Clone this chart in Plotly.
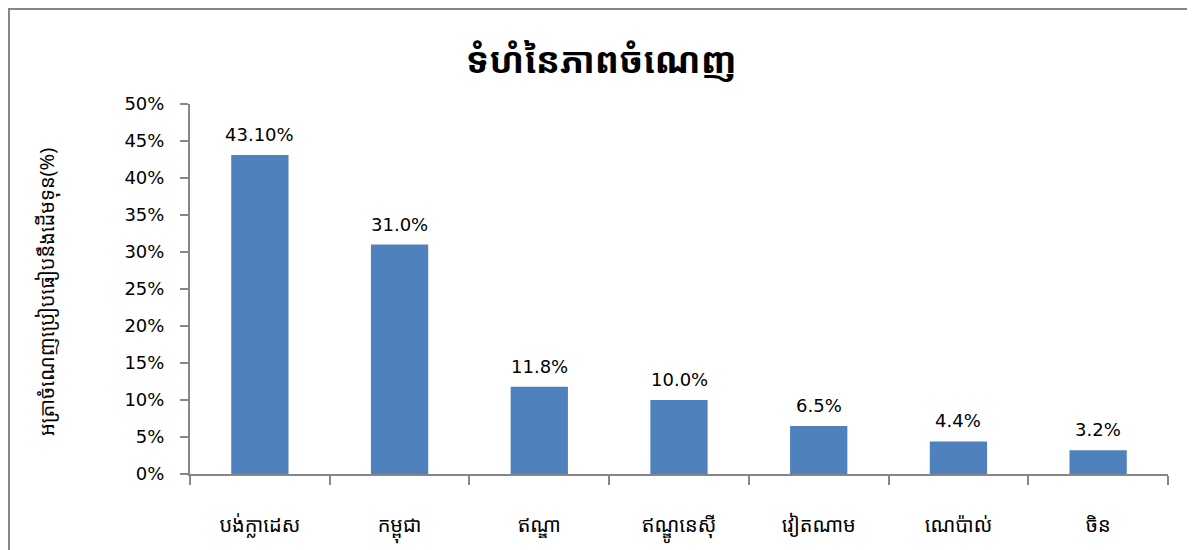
import plotly.graph_objects as go

categories = ["បង់ក្លាដេស", "កម្ពុជា", "ឥណ្ឌា", "ឥណ្ឌូនេស៊ី", "វៀតណាម", "ណេប៉ាល់", "ចិន"]
values = [0.431, 0.310, 0.118, 0.100, 0.065, 0.044, 0.032]
value_labels = ["43.10%", "31.0%", "11.8%", "10.0%", "6.5%", "4.4%", "3.2%"]
title_text = "ទំហំនៃភាពចំណេញ"
y_title = "អត្រាចំណេញប្រៀបធៀបនឹងដើមទុន(%)"
y_ticks = [0, 0.05, 0.10, 0.15, 0.20, 0.25, 0.30, 0.35, 0.40, 0.45, 0.50]

OFF = 8  # default page body margin
W, H = 1195 - OFF, 550 - OFF
L, R, T, B = 182, 27, 96, 76
pw = W - L - R
ph = H - T - B

def px_x(x):
    return (x - OFF - L) / pw

def px_y(y):
    return (H - B - (y - OFF)) / ph

fig = go.Figure()
fig.add_trace(go.Bar(
    x=categories, y=values,
    marker=dict(color="#4F81BD", line=dict(width=0)),
    cliponaxis=False,
))

for c, v, t in zip(categories, values, value_labels):
    fig.add_annotation(x=c, y=v, text=t, showarrow=False, xanchor="center", yanchor="bottom",
                       yshift=8, font=dict(family="DejaVu Sans", size=18, color="#000000"))

fig.add_annotation(xref="paper", yref="paper", x=px_x(47), y=px_y(292), text=y_title,
                   textangle=-90, showarrow=False, xanchor="center", yanchor="middle",
                   font=dict(size=20, color="#000000"))

fig.update_layout(
    width=W, height=H,
    margin=dict(l=L, r=R, t=T, b=B, pad=0, autoexpand=False),
    paper_bgcolor="white", plot_bgcolor="white",
    bargap=0.59,
    showlegend=False,
    font=dict(family="Khmer OS, Noto Sans Khmer, DejaVu Sans, sans-serif", color="#000000"),
    title=dict(text=title_text, x=0.5, xanchor="center", y=1 - 52 / H, yanchor="middle",
               font=dict(size=36, color="#000000", family="Khmer OS Muol Light, Noto Sans Khmer, DejaVu Sans, sans-serif", weight="bold")),
    xaxis=dict(
        type="category", showline=True, linecolor="#868686", linewidth=2,
        ticks="outside", ticklen=9, tickcolor="#868686", tickwidth=2, tickson="boundaries",
        tickfont=dict(size=20, color="#000000"), ticklabelstandoff=32, automargin=False,
        showgrid=False, zeroline=False,
    ),
    yaxis=dict(
        range=[0, 0.5], tickvals=y_ticks, tickformat=".0%",
        showline=True, linecolor="#868686", linewidth=2,
        ticks="outside", ticklen=8, tickcolor="#868686", tickwidth=2,
        tickfont=dict(family="DejaVu Sans", size=18, color="#000000"), ticklabelstandoff=12,
        showgrid=False, zeroline=False, automargin=False,
    ),
)

fig.add_shape(type="rect", xref="paper", yref="paper",
              x0=px_x(9), x1=px_x(1191), y0=px_y(560), y1=px_y(9),
              line=dict(color="#868686", width=2), fillcolor="rgba(0,0,0,0)", layer="above")

fig.write_html("out.html")
